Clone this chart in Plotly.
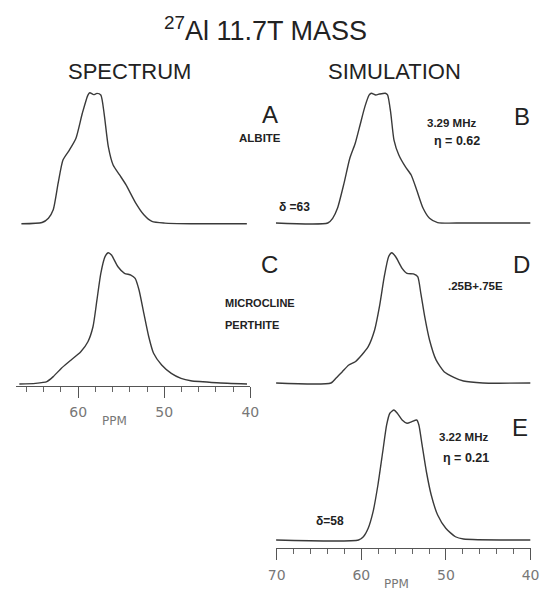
import plotly.graph_objects as go

W, H = 551, 590

# ---------------- data (ppm, normalized intensity) ----------------
a_ppm = [66.6, 64.2, 63.46, 62.9, 62.33, 61.77, 61.01, 60.26, 59.52, 58.87, 58.65, 58.2, 57.82, 57.37,
         56.99, 56.5, 55.94, 55.19, 54.44, 53.31, 52.37, 51.43, 49.93, 46.92, 40.4]
a_int = [0.0, 0.01, 0.043, 0.107, 0.31, 0.487, 0.564, 0.653, 0.843, 0.982, 1.0, 0.985, 0.995, 0.982,
         0.843, 0.589, 0.449, 0.373, 0.297, 0.158, 0.069, 0.018, 0.005, 0.0, 0.0]

b_ppm = [70.1, 63.96, 63.39, 62.82, 62.05, 61.36, 60.72, 60.15, 59.58, 59.07, 58.81, 58.3, 57.86, 57.17,
         56.9, 56.52, 56.14, 55.57, 54.8, 54.11, 53.46, 52.7, 51.94, 50.98, 47.93, 40.0]
b_int = [0.0, 0.0, 0.036, 0.113, 0.305, 0.498, 0.613, 0.754, 0.895, 0.985, 0.998, 0.985, 0.992, 0.998,
         0.985, 0.844, 0.638, 0.523, 0.433, 0.369, 0.254, 0.113, 0.036, 0.003, 0.0, 0.0]

c_ppm = [66.84, 64.96, 63.64, 62.9, 61.95, 60.82, 59.7, 58.87, 58.28, 57.82, 57.37, 56.88, 56.5, 56.13,
         55.38, 54.62, 53.88, 53.38, 52.93, 52.37, 51.8, 51.24, 50.3, 49.18, 48.05, 46.92, 43.91, 40.38]
c_int = [0.0, 0.005, 0.018, 0.056, 0.12, 0.183, 0.246, 0.322, 0.436, 0.64, 0.843, 0.97, 1.0, 0.982,
         0.893, 0.843, 0.83, 0.805, 0.716, 0.538, 0.36, 0.234, 0.145, 0.081, 0.043, 0.025, 0.01, 0.0]

d_ppm = [70.07, 63.59, 63.01, 62.25, 61.48, 60.72, 59.95, 59.19, 58.43, 57.86, 57.29, 56.78, 56.4, 55.94,
         55.18, 54.6, 53.85, 53.34, 52.97, 52.51, 51.94, 51.17, 50.22, 49.07, 47.93, 45.64, 40.0]
d_int = [0.0, 0.0, 0.036, 0.087, 0.138, 0.163, 0.215, 0.279, 0.407, 0.586, 0.816, 0.969, 1.0, 0.969,
         0.88, 0.842, 0.837, 0.816, 0.688, 0.509, 0.33, 0.177, 0.087, 0.044, 0.015, 0.0, 0.0]

e_ppm = [70.07, 60.33, 59.76, 59.19, 58.61, 58.04, 57.47, 57.01, 56.63, 56.14, 55.75, 55.18, 54.6, 54.03,
         53.46, 53.2, 52.82, 52.31, 51.74, 50.98, 50.02, 48.88, 47.93, 40.0]
e_int = [0.0, 0.0, 0.025, 0.09, 0.218, 0.423, 0.679, 0.885, 0.975, 1.0, 0.975, 0.923, 0.898, 0.91,
         0.923, 0.885, 0.731, 0.525, 0.346, 0.192, 0.09, 0.025, 0.008, 0.0]

major_ticks = [70, 60, 50, 40]
major_labels = ["70", "60", "50", "40"]

# ---------------- layout helpers ----------------
def px2x(p):
    return p / W

def px2y(p):
    return 1 - p / H

PAD = 0.05
def ydom(base_px, peak_px):
    h = base_px - peak_px
    return [px2y(base_px + PAD * h), px2y(peak_px - PAD * h)]

LINE = "#3a3a3a"
fig = go.Figure()

traces = [
    (a_ppm, a_int, "x", "y"),
    (b_ppm, b_int, "x2", "y2"),
    (c_ppm, c_int, "x3", "y3"),
    (d_ppm, d_int, "x4", "y4"),
    (e_ppm, e_int, "x5", "y5"),
]
for xs, ys, xa, ya in traces:
    fig.add_trace(go.Scatter(x=xs, y=ys, xaxis=xa, yaxis=ya, mode="lines",
                             line=dict(color=LINE, width=1.4, shape="spline", smoothing=0.6),
                             hoverinfo="skip", showlegend=False))

left_dom = [px2x(8.5), px2x(250)]
left_rng = [67.2, 40]
right_dom = [px2x(276.4), px2x(539.2)]
right_rng = [70.1, 40]

hidden = dict(visible=False, fixedrange=True)
yr = [-PAD, 1 + PAD]

visible_axis = dict(
    visible=True, showgrid=False, zeroline=False, showline=True, linecolor="#555", linewidth=1.3,
    ticks="outside", ticklen=11, tickwidth=1.2, tickcolor="#555",
    tickvals=major_ticks, ticktext=major_labels, ticklabelstandoff=3,
    tickfont=dict(family="DejaVu Sans", size=14, color="#777"),
    minor=dict(dtick=2, tick0=40, ticks="outside", ticklen=5, tickwidth=1, tickcolor="#666", showgrid=False),
    anchor="free", fixedrange=True,
)

fig.update_layout(
    width=W, height=H, margin=dict(l=0, r=0, t=0, b=0),
    paper_bgcolor="white", plot_bgcolor="rgba(0,0,0,0)",
    xaxis=dict(domain=left_dom, range=left_rng, anchor="y", **hidden),
    yaxis=dict(domain=ydom(223.8, 92.7), range=yr, anchor="x", **hidden),
    xaxis2=dict(domain=right_dom, range=right_rng, anchor="y2", **hidden),
    yaxis2=dict(domain=ydom(223.0, 93.0), range=yr, anchor="x2", **hidden),
    xaxis3=dict(domain=left_dom, range=left_rng, position=px2y(385.5), **visible_axis),
    yaxis3=dict(domain=ydom(384.0, 252.7), range=yr, anchor="x3", **hidden),
    xaxis4=dict(domain=right_dom, range=right_rng, anchor="y4", **hidden),
    yaxis4=dict(domain=ydom(383.0, 252.7), range=yr, anchor="x4", **hidden),
    xaxis5=dict(domain=right_dom, range=right_rng, position=px2y(548), **visible_axis),
    yaxis5=dict(domain=ydom(540.0, 410.0), range=yr, anchor="x5", **hidden),
)

TXT = "#222"
def note(text, xp, yp, size, bold=False, color=TXT, family="Liberation Sans", xanchor="center"):
    if bold:
        text = "<b>" + text + "</b>"
    fig.add_annotation(text=text, x=px2x(xp), y=px2y(yp), xref="paper", yref="paper",
                       showarrow=False, xanchor=xanchor, yanchor="middle",
                       font=dict(family=family, size=size, color=color))

note("<sup>27</sup>Al 11.7T MASS", 266, 29, 27)
note("SPECTRUM", 125, 72, 22)
note("SIMULATION", 399, 72, 22)
note("A", 270, 114, 24)
note("ALBITE", 260, 138, 11.5, bold=True)
note("B", 530, 116, 24)
note("3.29 MHz", 458, 123, 11.5, bold=True)
note("η = 0.62", 463, 141, 12.5, bold=True)
note("δ =63", 296, 207, 12, bold=True)
note("C", 270, 264, 24)
note("MICROCLINE", 222, 303, 11, bold=True, xanchor="left")
note("PERTHITE", 222, 325, 11, bold=True, xanchor="left")
note("D", 530, 264, 24)
note(".25B+.75E", 482, 286, 11.5, bold=True)
note("E", 528, 427, 24)
note("3.22 MHz", 470, 437, 11.5, bold=True)
note("η = 0.21", 473, 458, 12.5, bold=True)
note("δ=58", 332, 521, 12, bold=True)
note("PPM", 110, 421, 12, color="#777", family="DejaVu Sans")
note("PPM", 401, 584, 12, color="#777", family="DejaVu Sans")

fig.write_html("out.html", config={"displayModeBar": False},
               post_script="document.body.style.margin='0px';document.body.style.padding='0px';")
